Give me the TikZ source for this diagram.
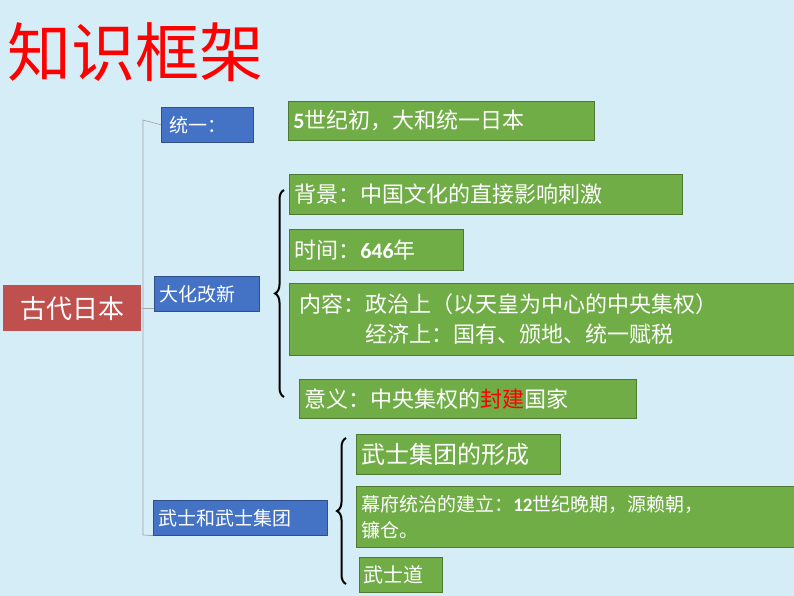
\documentclass[tikz,border=0pt]{standalone}
\usepackage{fontspec}
\setmainfont{Noto Sans CJK SC}
\newfontfamily\numf{Carlito}
\usetikzlibrary{decorations.pathreplacing}
\definecolor{bgc}{HTML}{D5EDF7}
\definecolor{gbox}{HTML}{70AD47}
\definecolor{bbox}{HTML}{4472C4}
\definecolor{rbox}{HTML}{C0504D}
\newcommand{\bn}[1]{{\numf\bfseries #1}}
\begin{document}
\begin{tikzpicture}[x=1pt,y=-1pt,
  base/.style={anchor=north west,inner sep=0pt,text=white,font=\fontsize{22}{28}\selectfont,align=left},
  gb/.style={base,fill=gbox,draw=gbox!70!black,line width=0.6pt},
  bb/.style={base,fill=bbox,draw=bbox!70!black,line width=0.6pt,font=\fontsize{19}{24}\selectfont},
  brc/.style={decorate,decoration={brace,amplitude=9pt},line width=2pt,black},
  conn/.style={draw=gray!70,line width=0.7pt}]
\fill[bgc] (0,0) rectangle (794,596);
\useasboundingbox (0,0) rectangle (794,596);
\node[anchor=west,text=red,font=\fontsize{64}{70}\selectfont] (title) at (4,52) {知识框架};
\node[base,fill=rbox,minimum width=138pt,minimum height=46pt,align=center,font=\fontsize{26}{30}\selectfont] (root) at (3,285) {古代日本};
\node[bb,minimum width=84pt,minimum height=35pt,text width=76pt,inner xsep=8pt] (tong) at (161,107) {统一：};
\node[bb,minimum width=105pt,minimum height=35pt,text width=95pt,inner xsep=5pt] (dahua) at (154,276) {大化改新};
\node[bb,minimum width=174pt,minimum height=35pt,text width=164pt,inner xsep=5pt] (wushi) at (153,500) {武士和武士集团};
\node[gb,minimum width=306pt,minimum height=39pt,text width=296pt,inner xsep=5pt] (g1) at (288,101) {\bn{5}世纪初，大和统一日本};
\node[gb,minimum width=393pt,minimum height=40pt,text width=383pt,inner xsep=5pt] (g2) at (289,174) {背景：中国文化的直接影响刺激};
\node[gb,minimum width=174pt,minimum height=41pt,text width=164pt,inner xsep=5pt] (g3) at (289,229) {时间：\bn{646}年};
\node[gb,minimum width=505pt,minimum height=72pt,text width=495pt,inner xsep=10pt,font=\fontsize{22}{30}\selectfont] (g4) at (289,283) {内容：政治上（以天皇为中心的中央集权）\\\hphantom{内容：}经济上：国有、颁地、统一赋税};
\node[gb,minimum width=337pt,minimum height=39pt,text width=327pt,inner xsep=5pt] (g5) at (299,379) {意义：中央集权的\textcolor{red}{封建}国家};
\node[gb,minimum width=204pt,minimum height=40pt,text width=194pt,inner xsep=5pt,font=\fontsize{24}{28}\selectfont] (h1) at (356,434) {武士集团的形成};
\node[gb,minimum width=438pt,minimum height=61pt,text width=428pt,inner xsep=5pt,font=\fontsize{19}{26}\selectfont] (h2) at (356,486) {幕府统治的建立：\bn{12}世纪晚期，源赖朝，\\镰仓。};
\node[gb,minimum width=83pt,minimum height=35pt,text width=75pt,inner xsep=4pt,font=\fontsize{20}{24}\selectfont] (h3) at (359,557) {武士道};
\coordinate (trunk) at (143,308);
\draw[conn] (root.east) -- (trunk);
\draw[conn] (tong.west) -- (143,120) -- (143,535) -- (wushi.south west);
\draw[conn] (trunk) -- (dahua.west |- trunk);
\coordinate (b1t) at (284,190);
\coordinate (b1b) at (284,397);
\coordinate (b2t) at (346,438);
\coordinate (b2b) at (346,584);
\draw[brc] (b1b) -- (b1t);
\draw[brc] (b2b) -- (b2t);
\end{tikzpicture}
\end{document}
